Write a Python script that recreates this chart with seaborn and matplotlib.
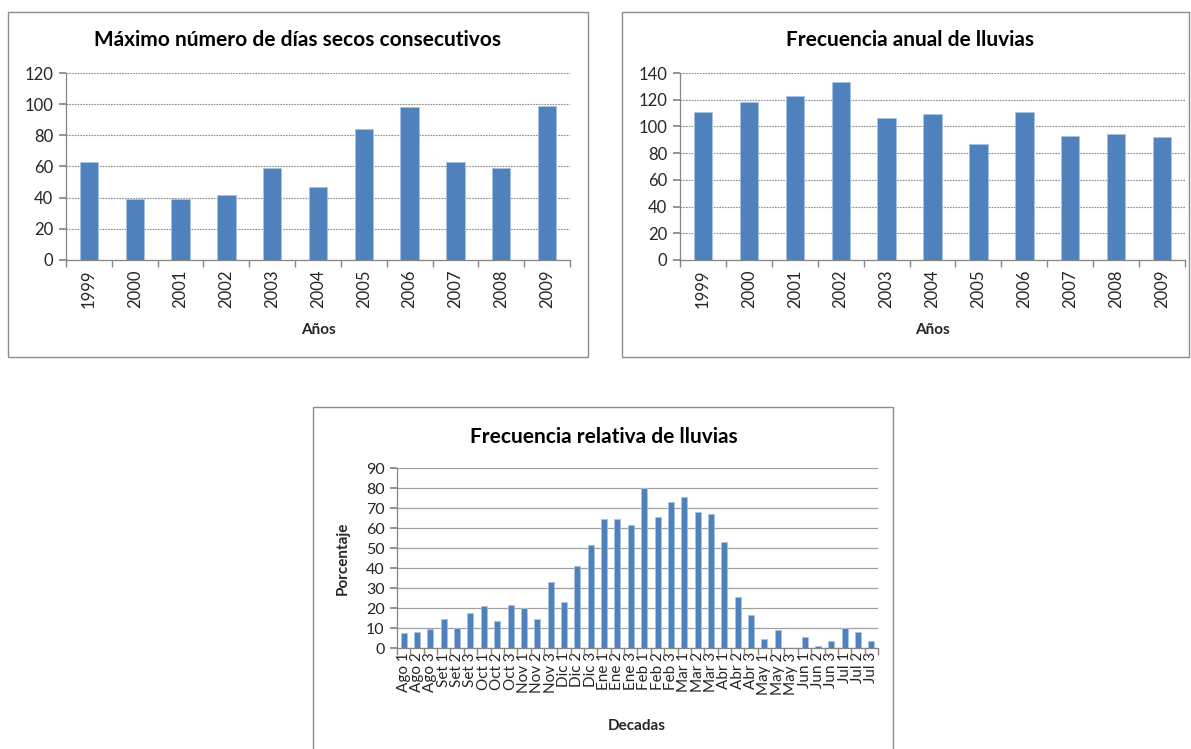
import matplotlib
matplotlib.use("Agg")
import matplotlib.pyplot as plt
from matplotlib.patches import Rectangle
from matplotlib.ticker import FixedLocator
import numpy as np
import seaborn as sns

years = ["1999", "2000", "2001", "2002", "2003", "2004", "2005", "2006", "2007", "2008", "2009"]
dias_secos = [63, 39, 39, 42, 59, 47, 84, 98, 63, 59, 99]
frecuencia_anual = [111, 118, 123, 133, 106, 109, 87, 111, 93, 94, 92]

decadas = ["Ago 1", "Ago 2", "Ago 3", "Set 1", "Set 2", "Set 3", "Oct 1", "Oct 2", "Oct 3",
           "Nov 1", "Nov 2", "Nov 3", "Dic 1", "Dic 2", "Dic 3", "Ene 1", "Ene 2", "Ene 3",
           "Feb 1", "Feb 2", "Feb 3", "Mar 1", "Mar 2", "Mar 3", "Abr 1", "Abr 2", "Abr 3",
           "May 1", "May 2", "May 3", "Jun 1", "Jun 2", "Jun 3", "Jul 1", "Jul 2", "Jul 3"]
porcentaje = [7.5, 8.2, 9.3, 14.7, 10, 17.5, 21, 13.7, 21.7, 20, 14.7, 32.8, 22.8, 40.8, 51.3,
              64.7, 64.7, 61.3, 80, 65.5, 72.8, 75.5, 68.2, 67.2, 52.8, 25.5, 16.7,
              4.7, 9.2, 0, 5.3, 1, 3.7, 10, 8.2, 3.7]

sns.set_theme(style="white")
plt.rcParams['font.family'] = ['Lato', 'DejaVu Sans']

W, H = 1191, 749
fig = plt.figure(figsize=(W / 100, H / 100), dpi=100)
fig.patch.set_facecolor("white")

BAR = "#4F81BD"
EDGE = "#A9C3E3"
AXC = "#868686"


def fx(px):
    return px / W


def fy(py):
    return 1 - py / H


def make_ax(l, r, t, b):
    return fig.add_axes([fx(l), fy(b), fx(r) - fx(l), fy(t) - fy(b)])


def style(ax, cats, vals, ymax, step, width, grid_ls, tick_fs, xtick_fs):
    sns.barplot(x=cats, y=vals, ax=ax, color=BAR, saturation=1, width=width,
                edgecolor=EDGE, linewidth=0.6)
    n = len(cats)
    ax.set_xlim(-0.5, n - 0.5)
    ax.set_ylim(0, ymax)
    ax.set_yticks(np.arange(0, ymax + 0.1, step))
    ax.yaxis.grid(True, color="#8c8c8c", linestyle=grid_ls, linewidth=0.8)
    ax.set_axisbelow(True)
    for s in ["top", "right"]:
        ax.spines[s].set_visible(False)
    for s in ["left", "bottom"]:
        ax.spines[s].set_color(AXC)
        ax.spines[s].set_linewidth(0.9)
    ax.set_xticks(range(n))
    ax.set_xticklabels(cats, rotation=90, fontsize=xtick_fs, color="#262626")
    ax.xaxis.set_minor_locator(FixedLocator(np.arange(-0.5, n, 1.0)))
    ax.tick_params(axis="x", which="major", length=0, pad=7)
    ax.tick_params(axis="x", which="minor", length=5, color=AXC, direction="out", bottom=True)
    ax.tick_params(axis="y", length=5, color=AXC, direction="out", left=True,
                   labelsize=tick_fs, labelcolor="#262626", pad=4)
    ax.set_xlabel("")
    ax.set_ylabel("")


# Panel borders
for (l, t, r, b) in [(8, 12, 588, 357), (622, 12, 1189, 357), (313, 407, 893, 760)]:
    fig.patches.append(Rectangle((fx(l), fy(b)), fx(r) - fx(l), fy(t) - fy(b),
                                 transform=fig.transFigure, fill=False,
                                 edgecolor="#8c8c8c", linewidth=1.0))

ax1 = make_ax(66, 570, 73, 260)
style(ax1, years, dias_secos, 120, 20, 0.4, (0, (1.5, 1.0)), 12, 12)
ax2 = make_ax(680, 1185, 73, 260)
style(ax2, years, frecuencia_anual, 140, 20, 0.4, (0, (1.5, 1.0)), 12, 12)
ax3 = make_ax(397, 878, 468, 648)
style(ax3, decadas, porcentaje, 90, 10, 0.45, "-", 11.5, 11)
ax3.tick_params(axis="x", which="major", pad=3)
ax3.yaxis.grid(True, color="#a0a0a0", linestyle="-", linewidth=0.9)

fig.text(fx(297), fy(40), "Máximo número de días secos consecutivos", ha="center", va="center",
         fontsize=15, fontweight="bold", color="black")
fig.text(fx(910), fy(40), "Frecuencia anual de lluvias", ha="center", va="center",
         fontsize=15, fontweight="bold", color="black")
fig.text(fx(604), fy(437), "Frecuencia relativa de lluvias", ha="center", va="center",
         fontsize=15, fontweight="bold", color="black")
fig.text(fx(318), fy(330), "Años", ha="center", va="center", fontsize=11, fontweight="bold")
fig.text(fx(932), fy(330), "Años", ha="center", va="center", fontsize=11, fontweight="bold")
fig.text(fx(637), fy(726), "Decadas", ha="center", va="center", fontsize=11, fontweight="bold")
fig.text(fx(343), fy(558), "Porcentaje", ha="center", va="center", rotation=90,
         fontsize=11, fontweight="bold")

fig.savefig("out.png", dpi=100, facecolor="white")
